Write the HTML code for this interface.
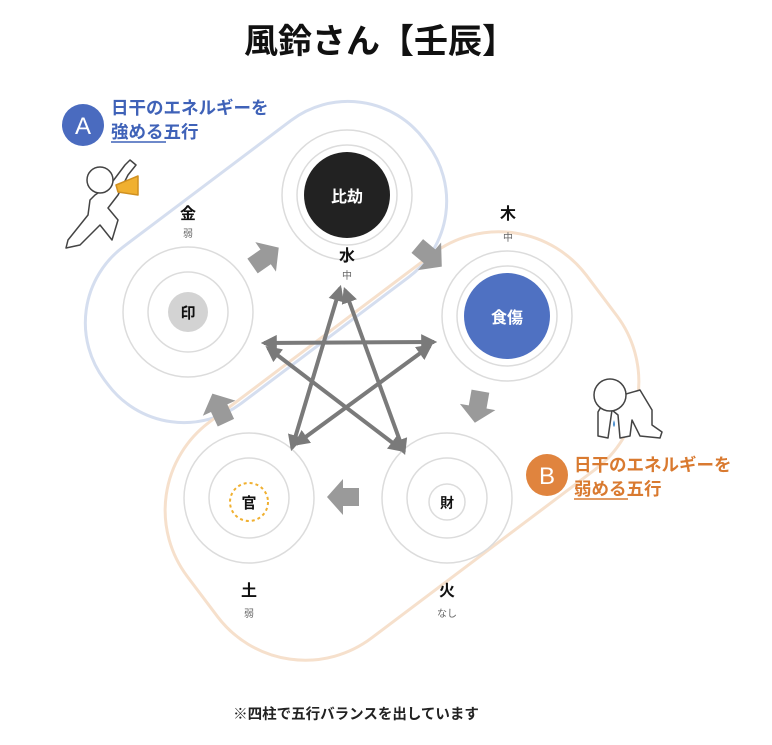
<!DOCTYPE html>
<html><head><meta charset="utf-8"><style>
body{margin:0;background:#fff;}
svg text{font-family:"Liberation Sans","Noto Sans CJK JP",sans-serif;}
</style></head><body>
<svg width="772" height="740" viewBox="0 0 772 740" xmlns="http://www.w3.org/2000/svg">
<defs>
<marker id="ah" viewBox="0 0 10 10" refX="8" refY="5" markerWidth="4" markerHeight="4" orient="auto-start-reverse"><path d="M0,0 L10,5 L0,10 z" fill="#7a7a7a"/></marker>
</defs>
<rect width="772" height="740" fill="#fff"/>
<text x="380" y="53" text-anchor="middle" font-size="34" font-weight="bold" fill="#111">風鈴さん【壬辰】</text>

<!-- bands -->
<rect x="-200" y="-98" width="400" height="196" rx="95" transform="translate(266,262) rotate(-37)" fill="none" stroke="#d5deef" stroke-width="3"/>
<rect x="-250" y="-135" width="500" height="270" rx="110" transform="translate(402,446) rotate(-37)" fill="none" stroke="#f6e0cc" stroke-width="3"/>

<!-- circles -->
<g fill="#fff" stroke="#dcdcdc" stroke-width="1.5">
<circle cx="347" cy="195" r="65"/><circle cx="347" cy="195" r="50"/>
<circle cx="507" cy="316" r="65"/><circle cx="507" cy="316" r="50"/>
<circle cx="188" cy="312" r="65"/><circle cx="188" cy="312" r="40"/>
<circle cx="249" cy="498" r="65"/><circle cx="249" cy="498" r="40"/>
<circle cx="447" cy="498" r="65"/><circle cx="447" cy="498" r="40"/>
<circle cx="447" cy="502" r="18"/>
</g>
<circle cx="347" cy="195" r="43" fill="#222"/>
<text x="347" y="202" text-anchor="middle" font-size="16" font-weight="bold" fill="#fff">比劫</text>
<circle cx="507" cy="316" r="43" fill="#4f71c2"/>
<text x="507" y="323" text-anchor="middle" font-size="16" font-weight="bold" fill="#fff">食傷</text>
<circle cx="188" cy="312" r="20" fill="#d3d3d3"/>
<text x="188" y="318" text-anchor="middle" font-size="15" font-weight="bold" fill="#111">印</text>
<circle cx="249" cy="502" r="19" fill="#fff" stroke="#f0b030" stroke-width="2" stroke-dasharray="3,3"/>
<text x="249" y="508" text-anchor="middle" font-size="15" font-weight="bold" fill="#111">官</text>
<text x="447" y="508" text-anchor="middle" font-size="14" font-weight="bold" fill="#111">財</text>

<!-- labels -->
<g font-weight="bold" font-size="16" fill="#111" text-anchor="middle">
<text x="188" y="219">金</text><text x="347" y="261">水</text><text x="508" y="219">木</text>
<text x="249" y="596">土</text><text x="447" y="596">火</text>
</g>
<g font-size="10" fill="#666" text-anchor="middle">
<text x="188" y="237">弱</text><text x="347" y="279">中</text><text x="508" y="241">中</text>
<text x="249" y="617">弱</text><text x="447" y="617">なし</text>
</g>

<!-- star -->
<g stroke="#7a7a7a" stroke-width="4" fill="none" marker-end="url(#ah)" marker-start="url(#ah)">
<line x1="340" y1="288" x2="292" y2="448"/>
<line x1="345" y1="290" x2="404" y2="452"/>
<line x1="264" y1="343" x2="434" y2="342"/>
<line x1="268" y1="348" x2="402" y2="450"/>
<line x1="296" y1="444" x2="430" y2="346"/>
</g>

<!-- block arrows -->
<g fill="#9a9a9a">
<polygon points="-14,-9 2,-9 2,-18 18,0 2,18 2,9 -14,9" transform="translate(264,258) rotate(-35)"/>
<polygon points="-14,-9 2,-9 2,-18 18,0 2,18 2,9 -14,9" transform="translate(428,255) rotate(40)"/>
<polygon points="-14,-9 2,-9 2,-18 18,0 2,18 2,9 -14,9" transform="translate(478,405) rotate(100)"/>
<polygon points="-14,-9 2,-9 2,-18 18,0 2,18 2,9 -14,9" transform="translate(345,497) rotate(180)"/>
<polygon points="-14,-9 2,-9 2,-18 18,0 2,18 2,9 -14,9" transform="translate(220,410) rotate(-115)"/>
</g>

<!-- A -->
<circle cx="83" cy="125" r="21" fill="#4a6bbf"/>
<text x="83" y="134" text-anchor="middle" font-size="24" fill="#fff">A</text>
<text x="111" y="114" font-size="17.5" font-weight="bold" fill="#3f62b8">日干のエネルギーを</text>
<text x="111" y="138" font-size="17.5" font-weight="bold" fill="#3f62b8">強める五行</text>
<line x1="111" y1="142" x2="166" y2="142" stroke="#3f62b8" stroke-width="1.5"/>
<!-- cheering figure -->
<g fill="#fff" stroke="#444" stroke-width="1.5" stroke-linejoin="round">
<path d="M95,195 L110,185 L125,165 L130,160 L136,165 L128,175 L118,195 L108,208 L118,220 L112,240 L100,225 L80,245 L66,248 L68,240 L88,215 L90,200 Z"/>
<circle cx="100" cy="180" r="13"/>
<polygon points="116,185 138,176 138,195 118,192" fill="#f0b030" stroke="#d09020"/>
</g>

<!-- B -->
<circle cx="547" cy="475" r="21" fill="#e0843e"/>
<text x="547" y="484" text-anchor="middle" font-size="24" fill="#fff">B</text>
<text x="574" y="471" font-size="17.5" font-weight="bold" fill="#d97a30">日干のエネルギーを</text>
<text x="574" y="495" font-size="17.5" font-weight="bold" fill="#d97a30">弱める五行</text>
<line x1="574" y1="499" x2="628" y2="499" stroke="#d97a30" stroke-width="1.5"/>
<!-- kneeling figure -->
<g fill="#fff" stroke="#444" stroke-width="1.5" stroke-linejoin="round">
<path d="M605,400 L640,390 L652,410 L652,425 L662,432 L660,438 L640,436 L632,420 L630,436 L620,438 L618,415 L612,410 L608,438 L598,436 L598,412 Z"/>
<circle cx="610" cy="395" r="16"/>
</g>
<path d="M614,420 q-2,5 0,7 q2,-2 0,-7z" fill="#4a8fd0"/>

<text x="356" y="719" text-anchor="middle" font-size="14.5" font-weight="bold" fill="#222">※四柱で五行バランスを出しています</text>
</svg>
</body></html>
